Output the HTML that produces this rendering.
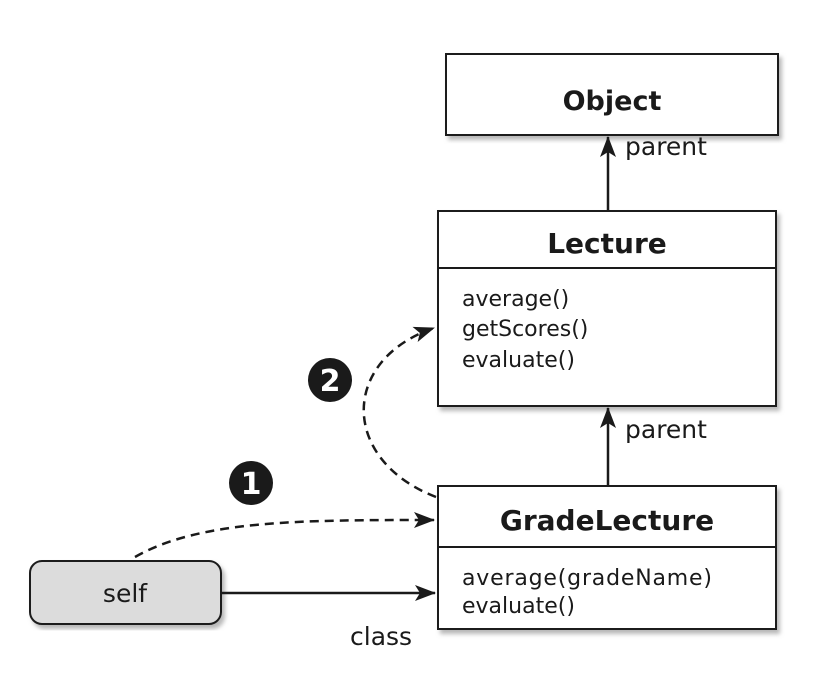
<!DOCTYPE html>
<html><head><style>
body{margin:0;background:#fff;}
svg text{font-family:"DejaVu Sans","Liberation Sans",sans-serif;fill:#1a1a1a;}
</style></head><body>
<svg width="836" height="668" viewBox="0 0 836 668" xmlns="http://www.w3.org/2000/svg">
<defs>
<marker id="ah" markerWidth="22" markerHeight="18" refX="20" refY="9" orient="auto" markerUnits="userSpaceOnUse">
<path d="M0,1 L21,9 L0,17 L5,9 Z" fill="#1a1a1a"/></marker>
<filter id="sh" x="-5%" y="-5%" width="112%" height="115%"><feDropShadow dx="3" dy="4" stdDeviation="2" flood-color="#888" flood-opacity="0.6"/></filter>
</defs>
<rect x="446" y="54" width="332" height="81" fill="#fff" stroke="#1a1a1a" stroke-width="2" filter="url(#sh)"/>
<text x="612" y="110" font-size="27" font-weight="bold" text-anchor="middle">Object</text>
<rect x="438" y="211" width="338" height="195" fill="#fff" stroke="#1a1a1a" stroke-width="2" filter="url(#sh)"/>
<line x1="438" y1="268" x2="776" y2="268" stroke="#1a1a1a" stroke-width="2"/>
<text x="607" y="253" font-size="28" font-weight="bold" text-anchor="middle">Lecture</text>
<text x="462" y="306" font-size="22">average()</text>
<text x="462" y="336" font-size="22">getScores()</text>
<text x="462" y="367" font-size="22">evaluate()</text>
<rect x="438" y="486" width="338" height="143" fill="#fff" stroke="#1a1a1a" stroke-width="2" filter="url(#sh)"/>
<line x1="438" y1="547" x2="776" y2="547" stroke="#1a1a1a" stroke-width="2"/>
<text x="607" y="530" font-size="28" font-weight="bold" text-anchor="middle">GradeLecture</text>
<text x="462" y="585" font-size="22" textLength="250">average(gradeName)</text>
<text x="462" y="613" font-size="22">evaluate()</text>
<rect x="30" y="561" width="191" height="63" rx="12" fill="#dcdcdc" stroke="#1a1a1a" stroke-width="2" filter="url(#sh)"/>
<text x="125" y="602" font-size="25" text-anchor="middle">self</text>
<line x1="608" y1="210" x2="608" y2="137" stroke="#1a1a1a" stroke-width="2.5" marker-end="url(#ah)"/>
<text x="625" y="155" font-size="25">parent</text>
<line x1="608" y1="485" x2="608" y2="408" stroke="#1a1a1a" stroke-width="2.5" marker-end="url(#ah)"/>
<text x="625" y="438" font-size="25">parent</text>
<line x1="221" y1="593" x2="435" y2="593" stroke="#1a1a1a" stroke-width="2.5" marker-end="url(#ah)"/>
<text x="350" y="645" font-size="25">class</text>
<path d="M135,557 C200,520 300,520 434,520" fill="none" stroke="#1a1a1a" stroke-width="2.5" stroke-dasharray="9,6" marker-end="url(#ah)"/>
<path d="M436,497 C340,460 340,360 434,328" fill="none" stroke="#1a1a1a" stroke-width="2.5" stroke-dasharray="9,6" marker-end="url(#ah)"/>
<circle cx="251" cy="483" r="22" fill="#1a1a1a"/>
<text x="251" y="494" font-size="30" font-weight="bold" text-anchor="middle" style="fill:#fff">1</text>
<circle cx="330" cy="380" r="22" fill="#1a1a1a"/>
<text x="330" y="391" font-size="30" font-weight="bold" text-anchor="middle" style="fill:#fff">2</text>
</svg>
</body></html>
